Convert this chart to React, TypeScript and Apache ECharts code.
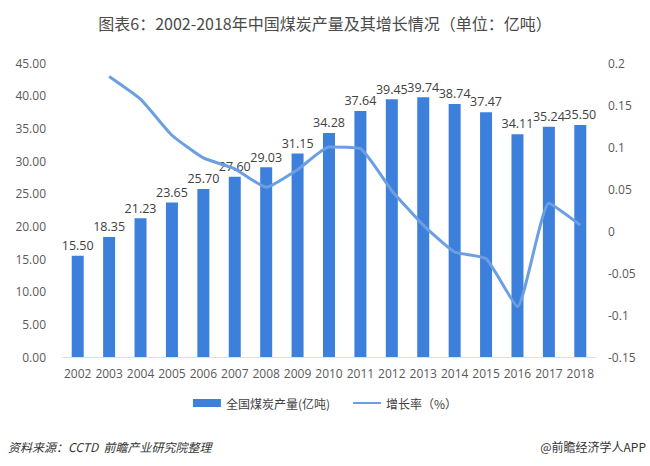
import React, { useEffect, useRef } from "react";
import * as echarts from "echarts";

const years = ["2002","2003","2004","2005","2006","2007","2008","2009","2010","2011","2012","2013","2014","2015","2016","2017","2018"];
const output = [15.50, 18.35, 21.23, 23.65, 25.70, 27.60, 29.03, 31.15, 34.28, 37.64, 39.45, 39.74, 38.74, 37.47, 34.11, 35.24, 35.50];
const growth = [null, 0.184, 0.157, 0.114, 0.087, 0.074, 0.052, 0.073, 0.100, 0.098, 0.048, 0.007, -0.025, -0.033, -0.090, 0.033, 0.007];

const titleText = "图表6：2002-2018年中国煤炭产量及其增长情况（单位：亿吨）";
const barName = "全国煤炭产量(亿吨)";
const lineName = "增长率（%）";
const sourceText = "资料来源：CCTD  前瞻产业研究院整理";
const brandText = "@前瞻经济学人APP";

const FONT = '"Open Sans", "Noto Sans CJK SC", sans-serif';
const CJK = '"Noto Sans CJK SC", sans-serif';

export default function App() {
  const ref = useRef<HTMLDivElement>(null);
  useEffect(() => {
    document.body.style.margin = "0";
    const chart = echarts.init(ref.current!, undefined, { renderer: "svg" });
    chart.setOption({
      animation: false,
      backgroundColor: "#ffffff",
      title: {
        text: titleText,
        left: "center",
        top: 10,
        textStyle: { fontFamily: CJK, fontSize: 16, fontWeight: "normal", color: "#4a4a4a" },
      },
      grid: { left: 62, right: 54, top: 63, bottom: 109, containLabel: false },
      legend: {
        bottom: 52,
        left: "center",
        itemGap: 22,
        itemWidth: 28,
        itemHeight: 8,
        textStyle: { fontFamily: CJK, fontSize: 12, color: "#404040" },
        data: [
          { name: barName, icon: "rect" },
          { name: lineName, itemStyle: { opacity: 0 } },
        ],
      },
      xAxis: {
        type: "category",
        data: years,
        axisTick: { show: false },
        axisLine: { lineStyle: { color: "#f2dcc8", width: 1 } },
        axisLabel: { fontFamily: FONT, fontSize: 12, color: "#595959", margin: 10, interval: 0 },
      },
      yAxis: [
        {
          type: "value",
          min: 0,
          max: 45,
          interval: 5,
          splitLine: { show: false },
          axisLine: { show: false },
          axisTick: { show: false },
          axisLabel: {
            fontFamily: FONT,
            fontSize: 12,
            color: "#595959",
            margin: 16,
            formatter: (v: number) => v.toFixed(2),
          },
        },
        {
          type: "value",
          min: -0.15,
          max: 0.2,
          interval: 0.05,
          splitLine: { show: false },
          axisLine: { show: false },
          axisTick: { show: false },
          axisLabel: {
            fontFamily: FONT,
            fontSize: 12,
            color: "#595959",
            margin: 12,
            formatter: (v: number) => String(parseFloat(v.toFixed(2))),
          },
        },
      ],
      series: [
        {
          name: barName,
          type: "bar",
          data: output,
          barWidth: 12,
          itemStyle: { color: "#3d80db" },
          label: {
            show: true,
            position: "top",
            distance: 4,
            fontFamily: FONT,
            fontSize: 12.5,
            color: "#404040",
            formatter: (p: any) => Number(p.value).toFixed(2),
          },
        },
        {
          name: lineName,
          type: "line",
          yAxisIndex: 1,
          data: growth,
          symbol: "none",
          smooth: 0.15,
          lineStyle: { color: "#6c9fe2", width: 3 },
          itemStyle: { color: "#6c9fe2" },
        },
      ],
      graphic: [
        {
          type: "text",
          left: 8,
          top: 440,
          style: { text: sourceText, fontFamily: CJK, fontSize: 12, fontStyle: "italic", fill: "#333333" },
        },
        {
          type: "text",
          right: 4,
          top: 440,
          style: { text: brandText, fontFamily: CJK, fontSize: 12, fill: "#333333" },
        },
      ],
    });
    return () => chart.dispose();
  }, []);
  return <div ref={ref} style={{ width: 650, height: 466 }} />;
}
